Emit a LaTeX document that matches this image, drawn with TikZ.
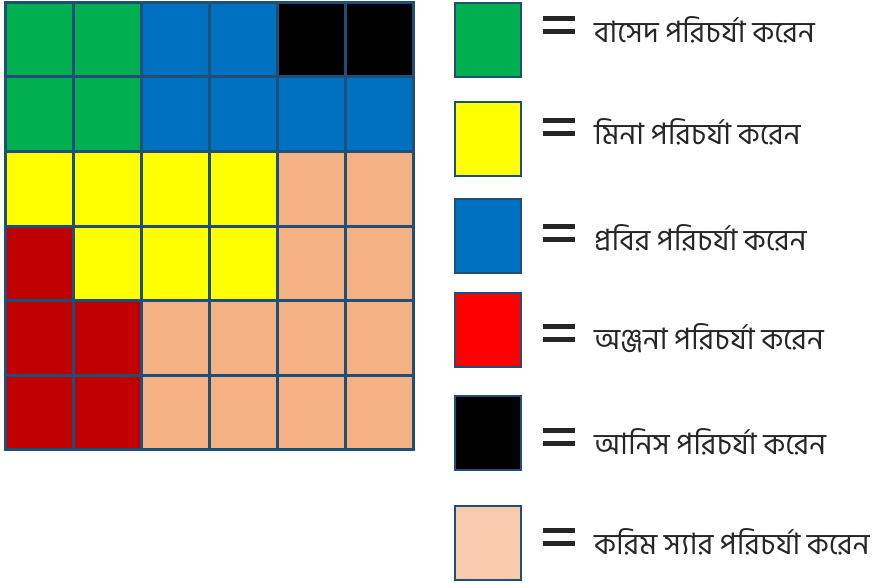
\documentclass[tikz,border=0pt]{standalone}
\usepackage{fontspec}
\newfontfamily\bn[Script=Bengali]{Hind Siliguri}
\definecolor{gG}{HTML}{00B050}
\definecolor{gB}{HTML}{0070C0}
\definecolor{gK}{HTML}{000000}
\definecolor{gY}{HTML}{FFFF00}
\definecolor{gR}{HTML}{C00000}
\definecolor{gP}{HTML}{F4B183}
\definecolor{lR}{HTML}{FF0000}
\definecolor{lP}{HTML}{F8CBAD}
\definecolor{edge}{HTML}{1F4E79}
\tikzset{
  legbox/.style={draw=edge, line width=2pt, minimum width=66pt, minimum height=74pt, inner sep=0pt, anchor=north west},
  legtext/.style={anchor=west, inner sep=0pt, font=\bn\fontsize{29.5}{32}\selectfont, text=black!85},
  eqbar/.style={fill=black!85, draw=none}
}
\begin{document}
\begin{tikzpicture}[x=1pt,y=-1pt]
\useasboundingbox (0,0) rectangle (875,582);
% grid cells
\def\xs{{5,73,141,209,277,345,413}}
\def\ys{{2,76,151,226,300,375,449}}
\foreach \r/\row in {0/{gG,gG,gB,gB,gK,gK},1/{gG,gG,gB,gB,gB,gB},2/{gY,gY,gY,gY,gP,gP},3/{gR,gY,gY,gY,gP,gP},4/{gR,gR,gP,gP,gP,gP},5/{gR,gR,gP,gP,gP,gP}}{
  \foreach \c [count=\i from 0] in \row {
    \pgfmathsetmacro{\xa}{\xs[\i]}
    \pgfmathsetmacro{\xb}{\xs[\i+1]}
    \pgfmathsetmacro{\ya}{\ys[\r]}
    \pgfmathsetmacro{\yb}{\ys[\r+1]}
    \fill[\c] (\xa,\ya) rectangle (\xb,\yb);
  }
}
\foreach \x in {5,73,141,209,277,345,413} \draw[edge, line width=3pt, line cap=rect] (\x,2) -- (\x,449);
\foreach \y in {2,76,151,226,300,375,449} \draw[edge, line width=3pt, line cap=rect] (5,\y) -- (413,\y);
% legend
\foreach \n/\top/\col/\eq/\txt in {
  a/2/gG/25/{বাসেদ পরিচর্যা করেন},
  b/101/gY/127/{মিনা পরিচর্যা করেন},
  c/198/gB/233/{প্রবির পরিচর্যা করেন},
  d/292/lR/333/{অঞ্জনা পরিচর্যা করেন},
  e/395/gK/437/{আনিস পরিচর্যা করেন},
  f/505/lP/537/{করিম স্যার পরিচর্যা করেন}}{
  \node[legbox, fill=\col] (box\n) at (454,\top) {};
  \fill[black!85] (543,\eq-9) rectangle (575,\eq-4);
  \fill[black!85] (543,\eq+4) rectangle (575,\eq+9);
  \node[legtext] (txt\n) at (594,\eq+5) {\txt};
}
\end{tikzpicture}
\end{document}
